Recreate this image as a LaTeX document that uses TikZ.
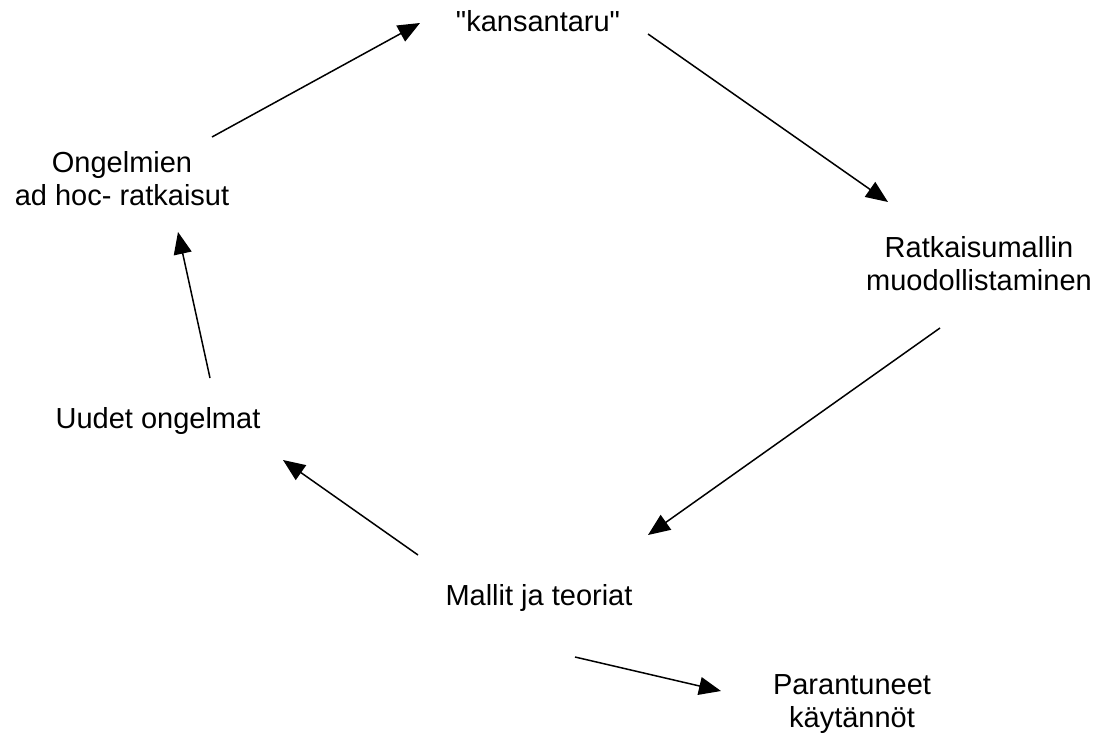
\documentclass[tikz,border=0pt]{standalone}
\usepackage{fontspec}
\setmainfont{Liberation Sans}[Ligatures=TeXOff]
\usetikzlibrary{arrows.meta}
\begin{document}
\begin{tikzpicture}[x=1pt,y=-1pt,
  stage/.style={font=\fontsize{29}{33}\selectfont, inner sep=0pt, align=center},
  flow/.style={line width=1.5pt, -{Triangle[length=22pt,width=18pt]}}]
\useasboundingbox[fill=white] (0,0) rectangle (1105,735);

% stages of the cycle
\node[stage, anchor=base]  (kansa)  at (538,32)  {"kansantaru"};
\node[stage, anchor=north] (malli)  at (979,236) {Ratkaisumallin\\muodollistaminen};
\node[stage, anchor=base]  (teoria) at (539,605) {Mallit ja teoriat};
\node[stage, anchor=base]  (uudet)  at (158,428) {Uudet ongelmat};
\node[stage, anchor=north] (adhoc)  at (122,151) {Ongelmien\\ad hoc- ratkaisut};
\node[stage, anchor=north] (paran)  at (852,674) {Parantuneet\\käytännöt};

% arrow end points
\coordinate (a1s) at (212,137); \coordinate (a1e) at (420,23);
\coordinate (a2s) at (648,34);  \coordinate (a2e) at (888,202);
\coordinate (a3s) at (940,328); \coordinate (a3e) at (648,535);
\coordinate (a4s) at (418,555); \coordinate (a4e) at (283,460);
\coordinate (a5s) at (210,378); \coordinate (a5e) at (178,232);
\coordinate (a6s) at (575,657); \coordinate (a6e) at (721,691);

% arrows
\draw[flow] (a1s) -- (a1e);
\draw[flow] (a2s) -- (a2e);
\draw[flow] (a3s) -- (a3e);
\draw[flow] (a4s) -- (a4e);
\draw[flow] (a5s) -- (a5e);
\draw[flow] (a6s) -- (a6e);
\end{tikzpicture}
\end{document}
